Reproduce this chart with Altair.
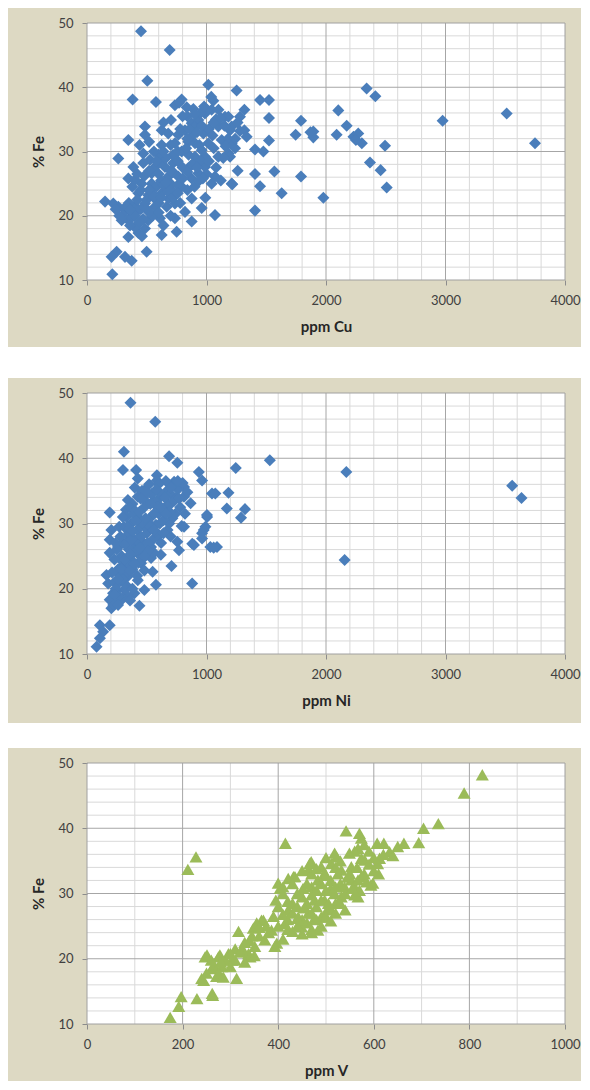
import altair as alt
import pandas as pd

# ---------------- data ----------------
cu_ppm = [452, 692, 505, 382, 577, 736, 792, 834, 890, 770, 1015, 1057, 1043, 1252, 1155, 1197, 703, 625, 485, 485,
          346, 262, 388, 346, 471, 527, 611, 653, 625, 736, 792, 764, 820, 876, 932, 974, 1015, 904, 904, 987,
          987, 932, 1071, 1099, 1183, 1211, 1043, 876, 764, 681, 653, 541, 457, 402, 541, 625, 708, 792, 876, 960,
          1071, 820, 876, 736, 667, 611, 569, 485, 430, 374, 318, 262, 220, 151, 346, 430, 513, 346, 430, 485,
          625, 750, 248, 206, 318, 374, 499, 212, 290, 541, 471, 569, 722, 848, 960, 848, 987, 1099, 1127, 1211,
          681, 736, 513, 430, 1448, 1523, 1523, 1317, 1280, 1183, 1211, 1317, 1336, 1239, 1197, 1406, 1476, 1523, 1261, 1406,
          1568, 1216, 1448, 1629, 1406, 1791, 1746, 1894, 1894, 1791, 1978, 2103, 2173, 2089, 2230, 2270, 2300, 2340, 2413, 2494,
          2368, 2457, 2508, 2976, 3512, 3749, 720, 760, 800, 850, 880, 940, 950, 1000, 1020, 1060, 1080, 900, 830, 780,
          840, 960, 1100, 1150, 1180, 1140, 700, 620, 580, 500, 450, 600, 550, 470, 400, 300, 350, 660, 600, 1120,
          1260, 1000, 1040, 2250, 1870, 380, 420, 520, 560, 640, 680, 720, 760, 800, 840, 880, 920, 970, 1020,
          860, 920, 950, 1050, 1080, 800, 760, 700, 680, 640, 560, 520, 440, 600, 450, 520, 600, 380, 330, 270,
          240, 460, 400, 640, 700, 780, 840, 900, 940, 990, 360, 400, 440, 360, 420, 500, 560, 620, 660, 720,
          760, 480, 520, 580, 640, 700, 840, 900, 980, 1060, 1120, 1160, 1240, 1280]
cu_fe = [48.7, 45.8, 41.0, 38.1, 37.7, 37.2, 38.1, 36.9, 36.6, 37.6, 40.4, 37.9, 36.5, 39.5, 35.4, 33.3, 34.9, 33.3, 33.9, 32.6,
         31.8, 28.9, 27.6, 25.8, 29.7, 28.7, 28.4, 27.6, 31.0, 31.3, 30.0, 32.6, 33.3, 34.4, 34.9, 32.8, 31.3, 31.3, 29.2, 29.2,
         27.6, 26.6, 26.1, 29.2, 29.7, 25.0, 25.0, 25.8, 26.1, 26.1, 24.5, 25.0, 25.0, 25.6, 23.5, 23.5, 24.0, 24.5, 22.7, 21.2,
         20.1, 20.6, 19.1, 19.6, 21.4, 19.6, 21.4, 21.9, 20.9, 20.4, 20.9, 21.4, 21.9, 22.2, 19.3, 18.8, 19.3, 16.7, 17.3, 18.0,
         17.0, 17.5, 14.4, 13.6, 13.6, 13.0, 14.4, 10.9, 19.3, 26.6, 28.2, 27.6, 28.2, 27.4, 30.2, 31.5, 35.9, 33.9, 31.8, 31.3,
         22.7, 21.9, 23.2, 23.5, 38.0, 38.0, 35.2, 36.5, 35.4, 35.4, 33.9, 33.3, 32.3, 30.5, 29.2, 30.3, 30.0, 31.7, 27.0, 26.5,
         26.9, 24.9, 24.6, 23.5, 20.8, 34.8, 32.6, 33.1, 32.2, 26.1, 22.8, 36.4, 34.0, 32.6, 32.3, 32.8, 31.3, 39.8, 38.6, 30.9,
         28.3, 27.1, 24.4, 34.8, 35.9, 31.3, 29.5, 28.5, 27.5, 29.5, 32.5, 31.0, 28.5, 26.5, 33.5, 30.5, 27.5, 33.8, 30.5, 33.5,
         35.5, 34.0, 36.5, 34.0, 32.0, 29.0, 25.0, 25.5, 24.5, 22.5, 24.0, 22.0, 20.0, 19.5, 21.5, 20.0, 22.0, 29.0, 29.5, 25.5,
         34.5, 36.5, 38.5, 31.8, 33.0, 24.5, 26.5, 24.0, 22.8, 24.8, 23.8, 26.8, 24.8, 25.8, 26.8, 28.0, 27.5, 25.8, 28.5,
         33.5, 33.0, 36.0, 32.5, 35.0, 35.5, 30.0, 31.0, 32.8, 34.5, 30.0, 31.5, 31.0, 26.5, 21.0, 20.5, 20.5, 19.8, 21.5, 20.0,
         21.0, 16.8, 18.2, 18.5, 20.0, 22.0, 24.0, 24.5, 25.5, 22.8, 18.5, 20.0, 19.0, 21.0, 22.5, 21.0, 23.0, 22.8, 25.2, 22.8,
         23.5, 26.2, 27.0, 28.5, 30.0, 27.0, 32.0, 35.8, 37.0, 34.5, 35.2, 30.8, 32.0, 33.2]

ni_ppm = [364, 571, 309, 687, 756, 301, 411, 425, 585, 585, 936, 963, 1046, 190, 729, 812, 674, 812, 867, 480,
          425, 342, 326, 508, 591, 646, 715, 536, 425, 370, 480, 577, 674, 812, 895, 756, 770, 204, 190, 190,
          259, 342, 397, 466, 536, 591, 618, 536, 707, 453, 370, 301, 246, 163, 177, 259, 342, 425, 549, 577,
          480, 397, 315, 218, 190, 259, 342, 439, 204, 880, 108, 190, 135, 108, 80, 1005, 977, 963, 1032, 1074,
          1184, 1170, 1245, 1289, 1322, 1530, 1088, 1060, 881, 792, 688, 2170, 2156, 3558, 3636, 350, 400, 420, 450, 480,
          520, 550, 600, 620, 680, 700, 750, 780, 640, 560, 380, 300, 280, 330, 380, 420, 460, 500, 350, 260,
          230, 300, 250, 400, 460, 520, 720, 660, 760, 740, 820, 700, 620, 560, 1004, 991, 963, 250, 280, 310,
          330, 360, 390, 420, 440, 470, 510, 530, 560, 590, 610, 650, 700, 730, 690, 600, 540, 450, 320, 290,
          340, 390, 430, 480, 510, 230, 210, 240, 280, 330, 360, 270, 220, 300, 370, 410, 450, 490, 570, 640,
          770, 800, 840, 260, 290, 320, 360, 340, 380, 400, 440, 470, 500, 530, 560, 580, 620, 660, 700,
          760, 240, 270, 300, 320, 360, 400, 440, 480, 380, 230, 260]
ni_fe = [48.5, 45.6, 41.0, 40.3, 39.3, 38.2, 38.2, 36.9, 37.4, 36.6, 37.9, 36.6, 34.6, 31.7, 36.4, 35.6, 35.1, 34.1, 33.1, 35.1,
         34.1, 33.6, 32.1, 33.1, 33.6, 32.1, 30.8, 31.0, 31.0, 30.0, 29.5, 29.8, 29.0, 29.5, 26.7, 27.2, 25.9, 29.0, 27.5, 25.5,
         26.4, 28.0, 26.4, 27.2, 26.4, 28.0, 25.2, 24.7, 23.5, 23.9, 24.4, 23.6, 22.6, 22.1, 20.8, 20.8, 21.9, 21.3, 22.6, 20.6,
         19.8, 19.3, 19.8, 19.3, 18.3, 17.8, 18.8, 17.4, 17.0, 20.8, 14.4, 14.4, 13.4, 12.4, 11.1, 31.0, 29.0, 27.7, 26.4, 34.6,
         34.7, 32.3, 38.5, 30.9, 32.2, 39.7, 26.4, 26.3, 26.9, 29.6, 30.0, 37.9, 24.4, 35.8, 33.9, 28.5, 27.5, 25.5, 30.0, 32.5,
         30.0, 27.5, 31.5, 34.5, 33.0, 34.5, 34.0, 32.5, 30.5, 33.5, 33.0, 27.0, 24.5, 22.5, 23.0, 22.0, 24.5, 28.5, 26.0, 23.0,
         21.0, 18.5, 19.8, 35.5, 35.0, 36.0, 36.0, 36.5, 35.2, 31.5, 31.5, 28.0, 27.0, 25.5, 31.3, 29.5, 28.5, 26.0, 28.0, 29.5,
         31.0, 32.5, 31.5, 29.0, 27.0, 26.0, 27.0, 29.5, 31.5, 32.5, 30.0, 34.0, 33.0, 33.5, 31.8, 36.0, 34.5, 33.8, 26.8, 25.0,
         24.0, 25.5, 24.0, 22.8, 25.8, 24.5, 22.5, 20.0, 21.8, 20.5, 18.2, 18.8, 17.5, 21.5, 27.5, 30.5, 28.0, 30.8, 28.8, 28.5,
         33.8, 36.2, 34.8, 21.5, 23.0, 24.5, 25.2, 29.5, 28.8, 32.0, 31.8, 34.0, 34.8, 33.0, 29.0, 35.2, 32.5, 31.5, 35.5,
         36.5, 27.0, 29.5, 31.0, 20.0, 22.8, 23.8, 26.2, 25.0, 20.0, 19.0, 17.5]

v_ppm = [174, 197, 192, 230, 263, 211, 228, 247, 240, 261, 275, 271, 313, 317, 303, 327, 341, 348, 365, 372,
         386, 397, 415, 400, 404, 421, 435, 414, 469, 400, 490, 483, 452, 476, 421, 442, 463, 490, 369, 393,
         351, 338, 324, 296, 278, 251, 265, 282, 310, 276, 244, 262, 542, 570, 574, 607, 621, 650, 663, 633,
         612, 704, 735, 694, 522, 549, 567, 581, 553, 532, 511, 497, 594, 574, 553, 539, 567, 518, 497, 511,
         494, 483, 789, 827, 598, 608, 567, 560, 532, 504, 476, 449, 463, 432, 518, 466, 574, 430, 450, 470,
         480, 500, 510, 520, 540, 460, 440, 420, 500, 530, 550, 560, 580, 590, 600, 560, 520, 410, 430, 450,
         470, 490, 470, 390, 380, 360, 340, 310, 290, 300, 330, 350, 410, 420, 520, 540, 570, 620, 640, 480,
         355, 285, 400, 410, 430, 440, 450, 460, 470, 480, 490, 500, 510, 520, 530, 545, 555, 565, 585, 590,
         600, 610, 580, 530, 500, 480, 460, 440, 420, 410, 395, 375, 360, 345, 330, 320, 300, 280, 260, 250,
         455, 505, 525, 470, 440, 450, 470, 430, 490, 510]
v_fe = [11.0, 14.2, 12.7, 13.9, 14.4, 33.7, 35.6, 20.3, 17.0, 18.5, 20.3, 17.3, 17.0, 24.2, 19.8, 21.3, 20.3, 24.7, 25.9, 22.9,
        24.4, 22.4, 37.7, 28.0, 30.8, 32.3, 32.6, 25.4, 34.9, 31.6, 34.1, 32.1, 30.8, 29.0, 27.5, 26.4, 27.0, 26.4, 25.9, 21.9,
        21.9, 20.8, 21.3, 20.8, 20.6, 20.6, 19.0, 18.8, 19.8, 17.8, 16.7, 14.7, 39.6, 39.2, 38.5, 37.7, 37.7, 37.2, 37.7, 36.4,
        35.4, 40.0, 40.7, 37.8, 35.6, 36.2, 36.9, 35.1, 34.1, 33.6, 34.6, 33.1, 31.3, 32.6, 32.1, 31.0, 29.5, 30.0, 29.0, 27.5,
        26.4, 24.4, 45.4, 48.2, 31.6, 34.6, 32.1, 29.8, 29.5, 27.7, 26.2, 24.9, 33.6, 32.6, 36.2, 34.6, 35.4, 28.5, 29.5, 31.0,
        28.0, 30.5, 32.0, 28.5, 30.0, 25.5, 25.0, 26.0, 26.5, 31.5, 33.0, 31.0, 33.0, 34.5, 33.5, 36.5, 34.0, 30.0, 31.5, 33.5,
        33.0, 29.0, 24.5, 26.5, 24.0, 23.5, 22.8, 21.5, 19.8, 18.8, 19.5, 20.5, 23.0, 24.5, 27.0, 27.5, 30.5, 36.0, 35.8, 26.0,
        25.5, 17.2, 25.0, 26.8, 27.0, 28.0, 26.0, 28.5, 29.8, 30.5, 31.5, 32.8, 30.8, 31.0, 28.5, 32.5, 30.8, 34.0, 31.8, 36.5,
        35.5, 33.0, 37.5, 35.0, 35.5, 33.8, 31.5, 30.0, 28.8, 31.0, 29.0, 25.0, 24.8, 23.5, 22.5, 21.0, 20.8, 19.5, 19.8, 17.8,
        27.8, 28.5, 33.0, 27.0, 26.2, 23.8, 24.0, 24.2, 25.0, 25.8]

fe_ticks = [10, 20, 30, 40, 50]
fe_minor = [12, 14, 16, 18, 22, 24, 26, 28, 32, 34, 36, 38, 42, 44, 46, 48]
fe_major = [20, 30, 40]
cuni_ticks = [0, 1000, 2000, 3000, 4000]
cuni_major = [1000, 2000, 3000]
cuni_minor = [v for v in range(200, 4000, 200) if v % 1000 != 0]
v_ticks = [0, 200, 400, 600, 800, 1000]
v_major = [200, 400, 600, 800]
v_minor = [100, 300, 500, 700, 900]

BEIGE = "#ddd9c3"
BLUE = "#4a7ebb"
GREEN = "#9bbb59"
FONT = "Lato"
W = 478
LEFT_EXT = -79
RIGHT_EXT = W + 16


def panel(xs, ys, xtitle, xmax, xticks, xmajor, xminor, color, shape, size, H, bottom_ext, gap):
    df = pd.DataFrame({"x": xs, "y": ys})
    one = pd.DataFrame({"k": [0]})
    xscale = alt.Scale(domain=[0, xmax], nice=False, zero=False)
    yscale = alt.Scale(domain=[10, 50], nice=False, zero=False)
    xaxis = alt.Axis(values=xticks, format="d", grid=False, domain=False, ticks=True,
                     tickSize=5, tickColor="#8c8c8c", labelPadding=9, labelFlush=False,
                     titlePadding=12)
    yaxis = alt.Axis(values=fe_ticks, format="d", grid=False, domain=False, ticks=True,
                     tickSize=5, tickColor="#8c8c8c", labelPadding=9, titlePadding=11)

    layers = []
    # invisible frame that fixes the extent of this panel's beige box
    layers.append(alt.Chart(one).mark_rect(fill="white", opacity=0).encode(
        x=alt.value(LEFT_EXT), x2=alt.value(RIGHT_EXT), y=alt.value(-15), y2=alt.value(H + bottom_ext)))
    if gap:
        layers.append(alt.Chart(one).mark_rect(fill="white").encode(
            x=alt.value(LEFT_EXT), x2=alt.value(RIGHT_EXT), y=alt.value(H + bottom_ext),
            y2=alt.value(H + bottom_ext + gap)))

    def vrules(vals, col):
        return alt.Chart(pd.DataFrame({"v": vals})).mark_rule(color=col, strokeWidth=1).encode(
            x=alt.X("v:Q", scale=xscale, title=xtitle, axis=xaxis))

    def hrules(vals, col):
        return alt.Chart(pd.DataFrame({"v": vals})).mark_rule(color=col, strokeWidth=1).encode(
            y=alt.Y("v:Q", scale=yscale, title="% Fe", axis=yaxis))

    layers += [vrules(xminor, "#d9d9d9"), hrules(fe_minor, "#d9d9d9"),
               vrules(xmajor, "#a6a6a6"), hrules(fe_major, "#a6a6a6")]
    layers.append(alt.Chart(one).mark_rect(fill=None, stroke="#a0a0a0", strokeWidth=1).encode(
        x=alt.value(0), x2=alt.value(W), y=alt.value(0), y2=alt.value(H)))

    pts = alt.Chart(df).mark_point(shape=shape, filled=True, size=size, color=color, opacity=1).encode(
        x=alt.X("x:Q", scale=xscale, title=xtitle, axis=xaxis),
        y=alt.Y("y:Q", scale=yscale, title="% Fe", axis=yaxis),
    )
    layers.append(pts)
    return alt.layer(*layers).properties(width=W, height=H)


p1 = panel(cu_ppm, cu_fe, "ppm Cu", 4000, cuni_ticks, cuni_major, cuni_minor, BLUE, "diamond", 145, 257, 67, 31)
p2 = panel(ni_ppm, ni_fe, "ppm Ni", 4000, cuni_ticks, cuni_major, cuni_minor, BLUE, "diamond", 145, 261, 69, 25)
p3 = panel(v_ppm, v_fe, "ppm V", 1000, v_ticks, v_major, v_minor, GREEN, "triangle-up", 170, 261, 57, 0)

chart = alt.vconcat(p1, p2, p3, spacing=0).properties(
    background=BEIGE,
    padding={"left": 0, "top": 0, "right": 0, "bottom": 0},
).configure_view(stroke=None, fill="white").configure_axis(
    labelFont=FONT, labelFontSize=13, labelColor="#404040",
    titleFont=FONT, titleFontSize=15, titleFontWeight="bold", titleColor="#262626",
)

chart.save("out.html", embed_options={"renderer": "svg", "actions": False})
